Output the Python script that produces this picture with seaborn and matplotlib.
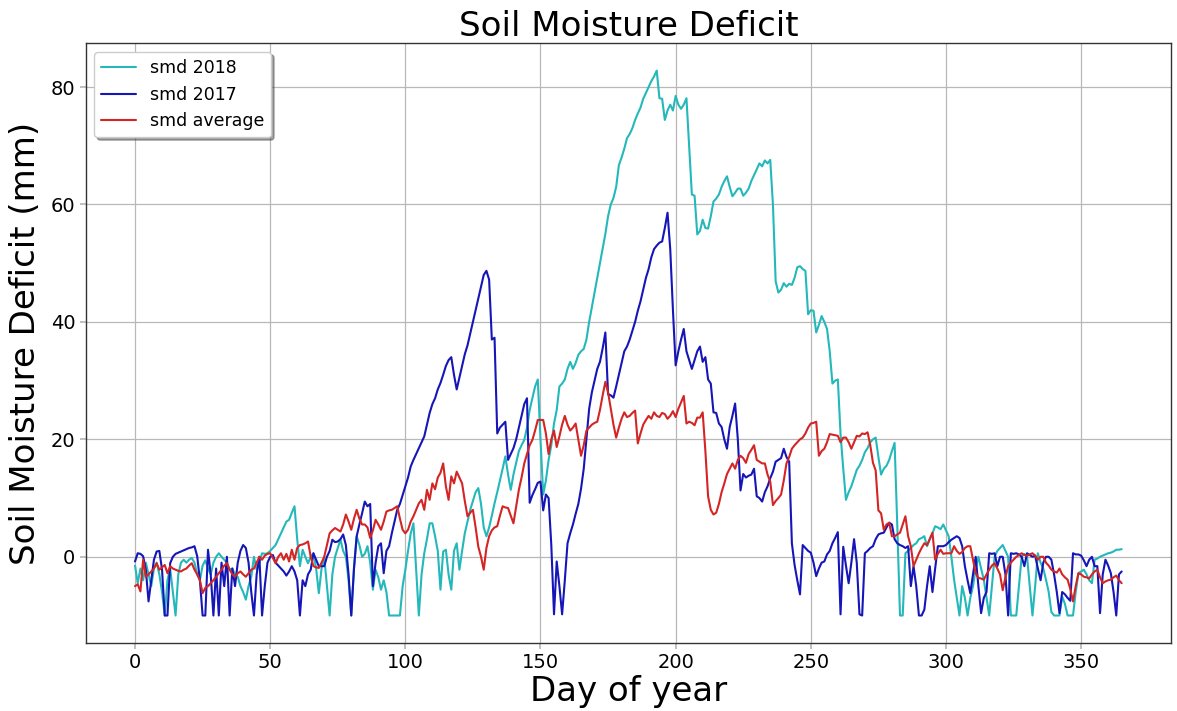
import numpy as np
import pandas as pd
import matplotlib
matplotlib.use("Agg")
import matplotlib.pyplot as plt
import seaborn as sns

smd_2018 = [
    -1.5, -4.5, -2, -4, -1, -3, -5, -2, -1, -3,
    -6, -10, -4, -2, -6, -10, -3, -1, -0.5, -1,
    -0.5, -0.2, -1, -3, -4, -1.5, -0.6, -2, -3, -1,
    0, 0.6, 0, -0.5, -1, -2.2, -2, -3, -3.4, -5,
    -6, -7.3, -5, -3.4, 0, -2.2, -1, 0.6, 0.5, 0.6,
    1, 1.5, 2, 3, 4, 5, 6, 6.3, 7.5, 8.6,
    3, -1.6, 1.2, 0, -1.1, 0, 0.6, -2, -6.2, -2,
    0, -5, -10, -3, 0, 1.5, 2.9, 1, 0, -4,
    -10, -2, 3.5, 2, 0, 0.5, 1.8, -1, -5.6, -2.2,
    -3.5, -5.6, -4, -6, -10, -10, -10, -10, -10, -5,
    -2.2, 1, 4, 5.7, -2, -10, -3, 0.6, 3, 5.7,
    5.7, 3.5, 1, -5.6, 0.9, 1.2, -3, -5.6, 1, 2.3,
    -2.2, 1, 4, 6, 8, 9.5, 11, 11.7, 9, 5,
    3.5, 5, 7, 9.1, 11, 13, 15, 17.1, 14, 11.4,
    14, 16, 18, 19, 19.9, 22, 25, 27, 29, 30.2,
    20, 10.6, 13, 16.5, 19, 22.7, 25, 29, 29.5, 30.2,
    32, 33.2, 32, 33, 34.4, 35, 35.4, 37, 40, 42.5,
    45, 47.5, 50, 52.4, 55, 58, 60, 61.1, 63, 66.7,
    68, 69.5, 71.3, 72, 73, 74.4, 75.5, 76.5, 78, 79,
    80, 81, 81.8, 82.8, 78.1, 78, 74.4, 76, 77, 76,
    78.5, 77, 76.3, 77, 78.1, 70, 61.7, 61.5, 54.9, 55.5,
    57.4, 56, 55.9, 58, 60.5, 61, 61.7, 63, 64, 64.8,
    63, 61.4, 62, 62.7, 62.7, 61.5, 62, 62.7, 64, 65,
    66, 67, 66.5, 67.5, 67, 67.6, 59.9, 46.9, 45, 45.5,
    46.6, 46, 46.5, 46.3, 47.5, 49.3, 49.5, 49, 48.7, 41.3,
    42, 41.9, 38.2, 39.5, 41, 40, 38.8, 35, 29.5, 30,
    30.2, 20.9, 15, 9.7, 11, 12, 13.4, 14.8, 15.5, 16.5,
    17.8, 18.5, 19.5, 20, 20.3, 17, 14, 15, 15.5, 16.5,
    18, 19.4, 5.2, -10, -10, 0.6, 1, 1.5, 2, 2.3,
    3, 3.2, 3.5, 1.8, 3, 4, 5.2, 5, 4.7, 5.5,
    4.5, 3.5, 0, -3.9, -7, -10, -5, -7, -10, -7,
    -5, -2, 0, -2, -3.9, -7, -10, -5, 0, 1,
    1.5, 2, 1, 0, -10, -10, -10, -5, 0, 0.5,
    0, -5, -10, -5, 0.6, -1, -2, -3.9, -6, -9.4,
    -10, -10, -10, -6.8, -8, -10, -10, -10, -6, -2.8,
    -2.5, -2.2, -3, -4, -4.5, -0.5, -0.3, 0, 0.2, 0.4,
    0.6, 0.7, 0.9, 1.2, 1.2, 1.3,
]

smd_2017 = [
    -0.8, 0.6, 0.5, 0.1, -2.2, -7.6, -4, -0.5, 0.9, 1,
    -2.2, -10, -10, -1.1, 0, 0.5, 0.7, 0.9, 1.1, 1.3,
    1.5, 1.6, 1.8, 0.1, -4, -10, -10, 1.2, -3, -10,
    -2, -10, -1, -5, 0, -10, -2, -5, -1, 1,
    2, 1.5, -1, -6, -10, -3, 0, -10, -5, -1,
    0, 0.3, -1, -1.5, -2, -2.5, -3.2, -2.5, -1.6, -2.5,
    -4, -10, -4, -5, -3, -2.2, 0.6, -0.5, -1.6, -1.6,
    -1.6, 0, 1, 2.9, 2.5, 2.6, 3, 3.8, 2, -3,
    -10, -2, 3.5, 5.5, 7.4, 9.4, 8.6, 9, -5, -1,
    1.8, 2.3, -2.8, 1, 1.8, 4, 6, 8, 9, 10.5,
    12, 13.5, 15.4, 16.5, 17.5, 18.5, 19.5, 20.5, 22.5, 24.5,
    26, 27, 28.5, 29.6, 31, 32.5, 33.5, 34, 31, 28.5,
    30.5, 32.5, 34.5, 36, 38, 40, 42, 44, 46, 48,
    48.7, 47.2, 37, 37.3, 21, 22, 22.5, 23, 16.5, 17.5,
    18.5, 20, 22, 24, 26, 27, 9.2, 10.5, 11.5, 12.6,
    12.8, 7.9, 10.6, 10, 2, -9.8, -0.8, -5, -9.8, -4,
    2.3, 4, 5.5, 7.3, 9, 11.6, 15, 20, 25.2, 28,
    30, 32, 33.2, 35.5, 38.2, 27.7, 27.5, 27.1, 29, 31,
    33, 35, 35.8, 37, 38.5, 40, 41.9, 43.5, 45.5, 47.5,
    49, 51, 52.4, 53, 53.5, 53.7, 56, 58.6, 52.4, 42,
    32.6, 35, 37, 38.8, 35, 33.5, 32, 33.5, 35, 35.8,
    33.2, 34, 30.2, 29.5, 24.6, 24.5, 22.7, 22.1, 20, 18.4,
    22.1, 24, 26.1, 20, 11.3, 14.1, 13.5, 13.8, 14, 15,
    10.3, 10, 9.4, 11, 12, 13.4, 14.5, 16.2, 16.5, 16.8,
    18.4, 17, 16.2, 2.3, -1.4, -4, -6.4, 2, 1.5, 1,
    0.7, -1, -3.3, -2, -1, -0.8, 0.4, 1, 2.3, 3.2,
    4.2, -9.8, 1.7, -1.5, -4.5, -1, 3, -1, -9.8, -10,
    0.6, 1, 1.5, 1.8, 3, 3.8, 4, 4.1, 5, 5.8,
    5.5, 3, 2.3, 2, 1.8, 1.5, 1.8, -5, -1.6, -5,
    -10, -10, -9, -5, -1.6, -6, -2, 1.8, 1.8, 1.8,
    2, 2.5, 2.9, 3.2, 3.5, 3.2, 1.8, -1.6, -4, -6.2,
    -3, 0, -5, -9.6, -7, -6, 0.6, 0.5, 0.6, -1.6,
    0, 0, -3, -10, 0.6, 0.5, 0.6, 0.4, 0, -1.6,
    0.6, 0.3, 0, 0.2, -2, -4, -1, 0, 0, -0.5,
    -3, -6, -9.6, -6, -6.4, -7, -7.5, 0.6, 0.4, 0.4,
    0.2, -0.6, -1.6, -0.5, 0, -1.6, -1.6, -9.6, -3, -0.5,
    -1.5, -2.8, -6, -10, -3, -2.5,
]

smd_average = [
    -5, -4.7, -5.9, -0.5, -3.4, -3, -2.5, -2, -1.1, -2.2,
    -1.8, -1.4, -2.8, -1.6, -2, -2.2, -2.4, -2.5, -2.2, -2,
    -1.5, -1.1, -2.2, -3, -4, -6.2, -5.3, -5, -4.5, -4,
    -3.4, -2.8, -2.2, -1.5, -1.1, -2.2, -3, -3.4, -2.8, -2.5,
    -3, -3.4, -2.8, -2.2, -2, -1, 0, -0.5, 0.2, 0.5,
    0.6, -0.2, -1.1, 0, 0.6, -0.5, 0.5, -0.8, 1.2, -0.5,
    1.5, 2, 2.1, 2.3, 2.6, 0, -1.6, -1.8, -1.9, -1,
    0, 2, 4, 4.5, 4.9, 4.6, 4.3, 5.5, 7.2, 6,
    4.6, 6.5, 8, 6.5, 5.5, 5.5, 5, 3.2, 4.5, 6.3,
    5.5, 4.6, 6, 7.7, 7.9, 8, 8.3, 8.6, 6.5, 4.6,
    4, 4.6, 6, 6.9, 8, 9.1, 9.7, 8, 11.4, 9.7,
    12.5, 11.5, 13.5, 14.3, 15.9, 12, 9.7, 13.7, 12.5, 14.5,
    13.5, 12.5, 9.5, 6.9, 7.5, 8, 5, 1.7, 0, -2.2,
    1.5, 3.5, 4.5, 5, 5.2, 7, 8.6, 8.4, 8.3, 7,
    5.7, 8.5, 11.4, 13.5, 15.9, 17.5, 19, 19.9, 21.5, 23.3,
    23.3, 23.3, 21, 17.5, 20, 21.5, 18.7, 20.5, 22.5, 24,
    22.5, 21.5, 22, 22.7, 20, 17.2, 19, 21.5, 22, 22.5,
    22.8, 23, 25, 27.5, 29.8, 28, 25.2, 22.5, 20.3, 22,
    23.5, 24.6, 23.8, 24, 24.5, 24.9, 19.3, 21, 22.5, 23.3,
    24, 23.5, 24.6, 24, 23.8, 24.5, 24.3, 23.5, 24, 24.8,
    23.8, 25.2, 26.3, 27.4, 22.7, 23, 22.8, 22.4, 23.7, 23.7,
    24.6, 18, 10.3, 8, 7.2, 7.5, 9, 11, 12.5, 14.1,
    15, 15.9, 15, 16.5, 17.2, 16.8, 16, 17.5, 18.2, 19,
    16.5, 16.2, 15.9, 15.9, 14, 12.8, 8.8, 9.5, 10, 10.6,
    13, 15.9, 17, 18.4, 19, 19.5, 20, 20.3, 21, 22,
    22.7, 22.8, 23, 17.2, 18, 18.4, 19.5, 20.9, 20.8, 20.7,
    20.6, 19.5, 20.3, 20.3, 19.5, 18.4, 19.5, 20.6, 20.5, 21,
    20.9, 21.2, 19, 16, 14.7, 7.9, 7.4, 4.6, 5.5, 5.8,
    3.5, 3.5, 3.8, 4.1, 5.5, 6.9, 3.5, 1.8, -1.6, -0.5,
    0.6, 1.5, 2.3, 2, 3, 4.1, -0.5, 0.5, 1.2, 0.5,
    0.6, 0.6, 0.6, 1.8, 1, 0.5, 0.8, 1.5, 1.8, 1.8,
    -0.5, -2.8, -3.6, -3.7, -3.9, -3, -2.2, -1.5, -1.1, -2,
    -3, -5.7, -3.5, -1.6, -1, -0.5, 0, 0.3, 0.6, 0.3,
    0.2, 0.4, 0.6, 0.2, -0.5, 0, 0, -1, -1.5, -2.2,
    -2.5, -2.7, -2, -3, -3.5, -3.9, -5.5, -7.6, -5, -2.8,
    -3, -3.4, -3.5, -3.7, -3, -2.5, -2.2, -3.5, -4.5, -4.2,
    -4, -3.9, -3.5, -3.2, -4, -4.5,
]

labels = ["smd 2018", "smd 2017", "smd average"]
colors = ["#24b8bb", "#1515b8", "#d42525"]

days = np.arange(len(smd_2018))
df = pd.DataFrame({"day": days, labels[0]: smd_2018,
                   labels[1]: smd_2017, labels[2]: smd_average})
long = df.melt(id_vars="day", var_name="series", value_name="smd")

sns.set_theme(style="ticks", rc={"axes.grid": True, "grid.color": "#b8b8b8",
                                 "grid.linewidth": 0.9, "axes.edgecolor": "#333333",
                                 "axes.linewidth": 1.0,
                                 "text.color": "black", "axes.labelcolor": "black",
                                 "xtick.color": "#b8b8b8", "ytick.color": "#b8b8b8",
                                 "xtick.labelcolor": "black", "ytick.labelcolor": "black",
                                 "xtick.major.size": 4, "ytick.major.size": 4})
plt.rcParams["font.family"] = ["DejaVu Sans"]

fig = plt.figure(figsize=(11.77, 7.11), dpi=100)
ax = fig.add_axes([0.0728, 0.096, 0.9221, 0.843])

sns.lineplot(data=long, x="day", y="smd", hue="series", hue_order=labels,
             palette=dict(zip(labels, colors)), linewidth=1.5, ax=ax)

ax.set_title("Soil Moisture Deficit", fontsize=24.5, pad=5)
ax.set_xlabel("Day of year", fontsize=24.5, labelpad=2)
ax.set_ylabel("Soil Moisture Deficit (mm)", fontsize=24.5, labelpad=6)
ax.tick_params(labelsize=14)
ax.set_xticks([0, 50, 100, 150, 200, 250, 300, 350])
ax.set_yticks([0, 20, 40, 60, 80])
ax.margins(x=0.05, y=0.05)
leg = ax.legend(loc="upper left", shadow=True, fontsize=12.5, title=None,
                frameon=True, fancybox=True)
leg.get_frame().set_edgecolor("#cccccc")
for t in leg.get_texts():
    t.set_color("black")

fig.savefig("out.png", dpi=100)
